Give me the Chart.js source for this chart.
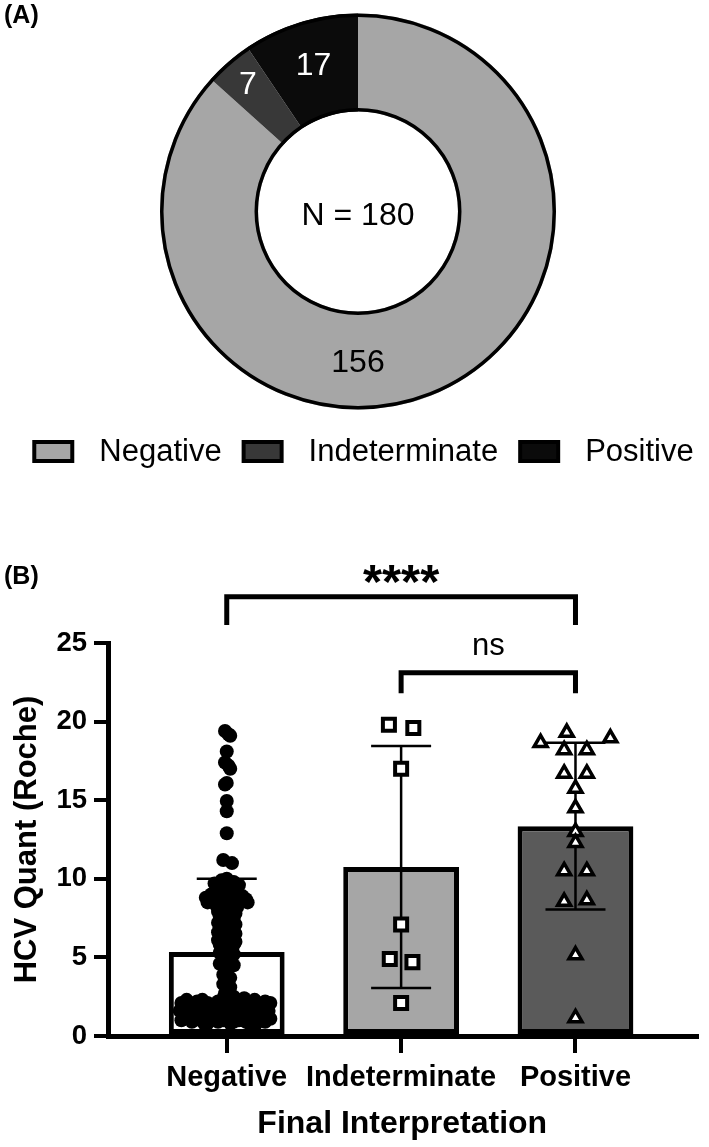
<!DOCTYPE html>
<html>
<head>
<meta charset="utf-8">
<title>HCV final interpretation</title>
<script src="https://cdn.jsdelivr.net/npm/chart.js@4.4.1/dist/chart.umd.min.js"></script>
<style>
  html, body { margin: 0; padding: 0; background: #fff; }
  .page { position: relative; width: 709px; height: 1147px; overflow: hidden; }
  #donutChart { position: absolute; left: 0; top: 0; }
  #barChart { position: absolute; left: 0; top: 500px; }
</style>
</head>
<body>
<div class="page">
  <canvas id="donutChart" width="709" height="500"></canvas>
  <canvas id="barChart" width="709" height="647"></canvas>
</div>
<script>
// ---- data: panel A ----
const categories = ['Negative', 'Indeterminate', 'Positive'];
const counts = [156, 7, 17];
const totalLabel = 'N = 180';

// ---- data: panel B ----
const barMeans = [5.35, 10.75, 13.35];
const barSD = [4.65, 7.7, 5.3];
const yTicks = [0, 5, 10, 15, 20, 25];

// Negative group: value and horizontal jitter (in category units)
const negValues = [
  19.4, 19.2, 19.1, 18.1, 17.4, 17.2, 17.0, 16.1, 16.0, 14.95, 14.3, 12.9, 11.2, 11.0,
  10.0, 9.9, 9.8, 9.7, 9.6, 9.5, 9.4, 9.3, 9.2, 9.1, 9.0,
  8.9, 8.8, 8.7, 8.7, 8.6, 8.5, 8.5, 8.4, 8.3, 8.2, 8.1, 8.0,
  7.9, 7.8, 7.7, 7.6, 7.5, 7.4, 7.3, 7.2, 7.1, 7.0,
  6.9, 6.9, 6.8, 6.7, 6.6, 6.5, 6.4, 6.3, 6.2, 6.1, 6.0,
  5.9, 5.8, 5.8, 5.7, 5.6, 5.5, 5.4, 5.3, 5.2, 5.1, 5.0,
  4.9, 4.8,
  8.8, 9.0, 7.6, 6.7, 8.2, 9.6, 7.0, 6.0, 5.5,
  4.6, 4.5, 4.2, 3.9, 3.7, 3.5, 3.3, 3.1, 2.9, 2.7,
  2.1, 2.3, 2.0, 2.2, 2.3, 2.1, 2.0, 2.2, 2.4, 2.3, 2.5, 2.2, 2.4, 2.1, 2.3, 2.0, 2.2, 2.1, 1.9, 2.0, 1.9, 1.9,
  1.6, 1.4, 1.7, 1.5, 1.6, 1.4, 1.7, 1.5, 1.6, 1.8, 1.5, 1.7, 1.4, 1.6, 1.5, 1.7, 1.4, 1.6, 1.3, 1.3, 1.3, 1.8,
  1.0, 1.2, 0.9, 1.1, 1.0, 0.8, 1.1, 0.9, 1.0, 1.2, 0.9, 1.0, 1.1, 0.8, 1.0, 1.2, 0.9, 1.1, 0.8, 0.8, 0.9, 0.8
];
const negJitter = [
  -0.01, 0.01, 0.02, 0.00, -0.01, 0.01, 0.02, 0.00, -0.01, 0.00, 0.00, 0.00, -0.02, 0.03,
  0.00, -0.03, 0.04, -0.07, 0.07, 0.01, -0.05, 0.05, -0.02, 0.03, -0.09,
  0.09, -0.12, 0.11, -0.04, 0.04, -0.11, 0.12, 0.00, -0.06, 0.06, -0.02, 0.03,
  -0.05, 0.05, 0.00, -0.04, 0.04, -0.02, 0.02, -0.05, 0.05, 0.00,
  -0.04, 0.04, -0.01, 0.03, -0.05, 0.05, 0.00, -0.03, 0.03, -0.05, 0.05,
  0.00, -0.04, 0.04, 0.00, -0.03, 0.03, 0.00, -0.04, 0.04, 0.00, -0.02,
  0.02, 0.00,
  0.07, 0.00, 0.01, -0.02, 0.00, -0.01, -0.03, 0.02, -0.02,
  -0.04, 0.04, 0.00, -0.02, 0.02, 0.00, -0.02, 0.02, 0.00, -0.01,
  -0.26, -0.23, -0.20, -0.17, -0.14, -0.11, -0.08, -0.05, -0.02, 0.01, 0.04, 0.07, 0.10, 0.13, 0.16, 0.19, 0.22, 0.25, -0.12, 0.00, 0.09, 0.18,
  -0.27, -0.24, -0.21, -0.18, -0.15, -0.12, -0.09, -0.06, -0.03, 0.00, 0.03, 0.06, 0.09, 0.12, 0.15, 0.18, 0.21, 0.24, -0.19, -0.04, 0.07, 0.20,
  -0.26, -0.23, -0.20, -0.17, -0.14, -0.11, -0.08, -0.05, -0.02, 0.01, 0.04, 0.07, 0.10, 0.13, 0.16, 0.19, 0.22, 0.25, -0.13, 0.02, 0.11, 0.17
];

const indValues = [19.8, 19.6, 17.0, 7.1, 4.9, 4.7, 2.1];
const indJitter = [-0.07, 0.07, 0.0, 0.0, -0.065, 0.065, 0.0];

const posValues = [19.3, 18.95, 18.65, 18.2, 18.2, 16.7, 16.7, 15.75, 14.5, 13.0, 12.3, 10.5, 10.5, 8.55, 8.65, 5.15, 1.15];
const posJitter = [-0.05, 0.2, -0.2, -0.065, 0.065, -0.065, 0.065, 0, 0, 0, 0, -0.065, 0.065, -0.065, 0.065, 0, 0];

// significance brackets: [from, to] category, bar height, leg end, label centre
const sigPairs = [[0, 2], [1, 2]];
const sigBarY = [27.95, 23.1];
const sigLegY = [26.15, 21.8];
const sigTextY = [29.4, 24.8];
const sigLabels = ['****', 'ns'];

// ---- styles ----
const FONT = "'Liberation Sans', Arial, Helvetica, sans-serif";
const sliceColors = ['#a6a6a6', '#383838', '#0b0b0b'];
const barColors = ['#ffffff', '#a6a6a6', '#5a5a5a'];

Chart.defaults.font.family = FONT;
Chart.defaults.color = '#000';

const panelTag = {
    id: 'panelTag',
    afterDraw(chart, args, opts) {
        const ctx = chart.ctx;
        ctx.save();
        ctx.font = 'bold 25px ' + FONT;
        ctx.fillStyle = '#000';
        ctx.textAlign = 'left';
        ctx.textBaseline = 'middle';
        ctx.fillText(opts.text, opts.x, opts.y);
        ctx.restore();
    }
};

// outline + value labels for the ring
const donutDecor = {
    id: 'donutDecor',
    afterDatasetsDraw(chart) {
        const ctx = chart.ctx;
        const arcs = chart.getDatasetMeta(0).data;
        const a0 = arcs[0];
        ctx.save();
        ctx.strokeStyle = '#000';
        ctx.lineWidth = 3.5;
        ctx.beginPath();
        ctx.arc(a0.x, a0.y, a0.outerRadius - 1.75, 0, Math.PI * 2);
        ctx.stroke();
        ctx.beginPath();
        ctx.arc(a0.x, a0.y, a0.innerRadius + 1.75, 0, Math.PI * 2);
        ctx.stroke();

        ctx.font = '32px ' + FONT;
        ctx.textAlign = 'center';
        ctx.textBaseline = 'middle';
        const labelR = [152, 168, 152];
        const labelColor = ['#000', '#fff', '#fff'];
        arcs.forEach((arc, i) => {
            // biggest slice gets its label at the bottom, like the original
            const ang = i === 0 ? Math.PI / 2 : (arc.startAngle + arc.endAngle) / 2;
            ctx.fillStyle = labelColor[i];
            ctx.fillText(String(counts[i]), arc.x + Math.cos(ang) * labelR[i], arc.y + Math.sin(ang) * labelR[i]);
        });
        ctx.fillStyle = '#000';
        ctx.fillText(totalLabel, a0.x, a0.y + 5);
        ctx.restore();
    }
};

const boxLegend = {
    id: 'boxLegend',
    afterDraw(chart, args, opts) {
        const ctx = chart.ctx;
        ctx.save();
        ctx.font = '31px ' + FONT;
        const widths = categories.map(t => ctx.measureText(t).width);
        let total = opts.itemGap * (categories.length - 1);
        widths.forEach(w => { total += opts.boxW + opts.gap + w; });
        let x = opts.cx - total / 2;
        ctx.textBaseline = 'middle';
        ctx.textAlign = 'left';
        ctx.lineWidth = 4;
        ctx.strokeStyle = '#000';
        categories.forEach((t, i) => {
            const top = opts.cy - opts.boxH / 2;
            ctx.fillStyle = sliceColors[i];
            ctx.fillRect(x + 2, top + 2, opts.boxW - 4, opts.boxH - 4);
            ctx.strokeRect(x + 2, top + 2, opts.boxW - 4, opts.boxH - 4);
            x += opts.boxW + opts.gap;
            ctx.fillStyle = '#000';
            ctx.fillText(t, x, opts.cy + 1);
            x += widths[i] + opts.itemGap;
        });
        ctx.restore();
    }
};

// mean +/- SD whiskers, drawn between the bars and the points
const errorBars = {
    id: 'errorBars',
    afterDatasetDraw(chart, args) {
        if (args.meta.type !== 'bar') return;
        const {ctx, scales: {x, y}} = chart;
        ctx.save();
        ctx.strokeStyle = '#000';
        ctx.lineWidth = 2.5;
        barMeans.forEach((m, i) => {
            const px = x.getPixelForValue(i);
            const hi = y.getPixelForValue(m + barSD[i]);
            const lo = y.getPixelForValue(Math.max(m - barSD[i], 0));
            ctx.beginPath();
            ctx.moveTo(px, hi); ctx.lineTo(px, lo);
            ctx.moveTo(px - 30, hi); ctx.lineTo(px + 30, hi);
            ctx.moveTo(px - 30, lo); ctx.lineTo(px + 30, lo);
            ctx.stroke();
        });
        ctx.restore();
    }
};

const sigBrackets = {
    id: 'sigBrackets',
    afterDraw(chart) {
        const {ctx, scales: {x, y}} = chart;
        ctx.save();
        ctx.strokeStyle = '#000';
        ctx.fillStyle = '#000';
        ctx.lineWidth = 5;
        ctx.lineJoin = 'miter';
        sigPairs.forEach((pair, i) => {
            const x1 = x.getPixelForValue(pair[0]);
            const x2 = x.getPixelForValue(pair[1]);
            const yBar = y.getPixelForValue(sigBarY[i]);
            const yLeg = y.getPixelForValue(sigLegY[i]);
            ctx.beginPath();
            ctx.moveTo(x1, yLeg); ctx.lineTo(x1, yBar); ctx.lineTo(x2, yBar); ctx.lineTo(x2, yLeg);
            ctx.stroke();

            ctx.font = sigLabels[i] === 'ns' ? '31px ' + FONT : 'bold 49px ' + FONT;
            ctx.textAlign = 'center';
            ctx.textBaseline = 'alphabetic';
            const m = ctx.measureText(sigLabels[i]);
            const cy = y.getPixelForValue(sigTextY[i]);
            ctx.fillText(sigLabels[i], (x1 + x2) / 2, cy + (m.actualBoundingBoxAscent - m.actualBoundingBoxDescent) / 2);
        });
        ctx.restore();
    }
};

// ---- panel A ----
new Chart(document.getElementById('donutChart'), {
    type: 'doughnut',
    data: {
        labels: categories,
        datasets: [{
            data: counts,
            backgroundColor: sliceColors,
            borderWidth: 0
        }]
    },
    options: {
        responsive: false,
        devicePixelRatio: 1,
        animation: false,
        cutout: '50.5%',
        layout: { padding: { left: 160, right: 153, top: 13.5, bottom: 90.5 } },
        plugins: {
            legend: { display: false },
            tooltip: { enabled: false },
            panelTag: { text: '(A)', x: 4, y: 16 },
            boxLegend: { cx: 363, cy: 451.5, boxW: 42, boxH: 23, gap: 25, itemGap: 20 }
        }
    },
    plugins: [donutDecor, boxLegend, panelTag]
});

// ---- panel B ----
const toPoints = (idx, jit, vals) => vals.map((v, k) => ({ x: idx + jit[k], y: v }));

new Chart(document.getElementById('barChart'), {
    type: 'bar',
    data: {
        datasets: [
            {
                type: 'bar',
                data: barMeans.map((v, i) => ({ x: i, y: v })),
                backgroundColor: barColors,
                borderColor: '#000',
                borderWidth: 5,
                borderSkipped: false,
                barPercentage: 0.664,
                categoryPercentage: 1,
                order: 2
            },
            {
                type: 'scatter',
                data: toPoints(0, negJitter, negValues),
                pointStyle: 'circle',
                pointRadius: 7,
                pointBackgroundColor: '#000',
                pointBorderWidth: 0,
                order: 1
            },
            {
                type: 'scatter',
                data: toPoints(1, indJitter, indValues),
                pointStyle: 'rect',
                pointRadius: 8.5,
                pointBackgroundColor: '#fff',
                pointBorderColor: '#000',
                pointBorderWidth: 4,
                order: 1
            },
            {
                type: 'scatter',
                data: toPoints(2, posJitter, posValues),
                pointStyle: 'triangle',
                pointRadius: 7.5,
                pointBackgroundColor: '#fff',
                pointBorderColor: '#000',
                pointBorderWidth: 3.5,
                order: 1
            }
        ]
    },
    options: {
        responsive: false,
        devicePixelRatio: 1,
        animation: false,
        layout: { padding: { left: 0, right: 1, top: 143, bottom: 0 } },
        scales: {
            x: {
                type: 'linear',
                min: -0.681,
                max: 2.694,
                offset: false,
                afterBuildTicks: axis => { axis.ticks = categories.map((c, i) => ({ value: i })); },
                afterFit: axis => { axis.height = 111; },
                border: { color: '#000', width: 5 },
                grid: {
                    offset: false,
                    drawOnChartArea: false,
                    drawTicks: true,
                    tickLength: 17,
                    lineWidth: 4,
                    color: '#000'
                },
                ticks: {
                    callback: v => categories[v],
                    autoSkip: false,
                    maxRotation: 0,
                    padding: 8,
                    color: '#000',
                    font: { size: 29, weight: 'bold' }
                },
                title: {
                    display: true,
                    text: 'Final Interpretation',
                    color: '#000',
                    padding: { top: 0, bottom: 4 },
                    font: { size: 32, weight: 'bold' }
                }
            },
            y: {
                min: 0,
                max: 25,
                afterBuildTicks: axis => { axis.ticks = yTicks.map(v => ({ value: v })); },
                afterFit: axis => { axis.width = 108; },
                border: { color: '#000', width: 5 },
                grid: {
                    drawOnChartArea: false,
                    drawTicks: true,
                    tickLength: 14,
                    lineWidth: 4,
                    color: '#000'
                },
                ticks: {
                    padding: 7,
                    color: '#000',
                    font: { size: 27.5, weight: 'bold' }
                },
                title: {
                    display: true,
                    text: 'HCV Quant (Roche)',
                    color: '#000',
                    padding: { top: 9, bottom: 0 },
                    font: { size: 31, weight: 'bold' }
                }
            }
        },
        plugins: {
            legend: { display: false },
            tooltip: { enabled: false },
            panelTag: { text: '(B)', x: 4, y: 77.5 }
        }
    },
    plugins: [errorBars, sigBrackets, panelTag]
});
</script>
</body>
</html>
